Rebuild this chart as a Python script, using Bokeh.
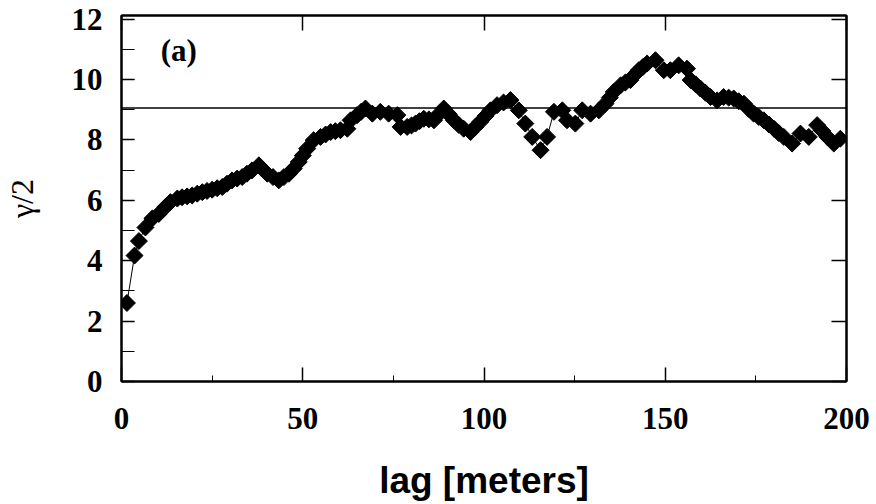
import numpy as np
from bokeh.plotting import figure
from bokeh.models import LinearAxis, SingleIntervalTicker, Span, Label, Range1d, CustomJSTickFormatter
from bokeh.embed import file_html
from bokeh.resources import INLINE

# lag distance [m]
lag = [1.5, 3.6, 4.8, 6.6, 8.5, 10.3, 12.1, 13.5, 15.4, 16.7, 18.1, 19.5, 20.9, 22.3, 23.6,
       25.0, 26.4, 27.8, 29.1, 30.5, 31.9, 33.3, 34.6, 36.0, 37.9, 39.0, 40.2, 41.8, 43.4,
       44.8, 46.2, 47.5, 48.9, 50.0, 51.2, 53.0, 54.9, 56.3, 57.7, 59.0, 60.4, 62.3, 63.2,
       65.0, 66.1, 67.3, 69.2, 71.4, 73.7, 76.1, 77.0, 78.8, 80.0, 81.1, 82.2, 83.4, 84.8,
       86.2, 87.5, 88.9, 90.3, 91.7, 93.0, 94.4, 96.3, 97.6, 99.0, 100.4, 101.8, 103.6,
       105.4, 107.3, 109.6, 111.4, 113.3, 115.6, 117.4, 119.3, 121.6, 122.9, 125.2, 127.1,
       129.4, 131.7, 133.5, 134.7, 135.8, 137.7, 139.0, 140.4, 141.5, 142.7, 143.9, 145.0,
       147.3, 149.6, 151.4, 153.7, 156.0, 157.0, 158.4, 159.7, 161.1, 162.5, 164.3, 166.1,
       167.5, 168.9, 170.3, 171.7, 173.0, 174.4, 175.8, 177.2, 178.6, 180.0, 181.3, 182.7,
       185.0, 187.3, 189.6, 191.9, 193.3, 194.7, 196.5, 198.3]
# semivariance gamma/2
gamma_half = [2.60, 4.17, 4.65, 5.10, 5.40, 5.55, 5.78, 5.94, 6.06, 6.10, 6.13, 6.16, 6.22, 6.27, 6.31,
              6.35, 6.40, 6.44, 6.55, 6.66, 6.72, 6.77, 6.88, 6.99, 7.16, 7.02, 6.88, 6.77, 6.66,
              6.77, 6.88, 7.05, 7.27, 7.48, 7.71, 7.99, 8.10, 8.18, 8.26, 8.29, 8.32, 8.37, 8.65,
              8.82, 8.93, 9.04, 8.87, 8.93, 8.87, 8.82, 8.43, 8.43, 8.48, 8.54, 8.62, 8.70, 8.68,
              8.65, 8.85, 9.04, 8.85, 8.65, 8.50, 8.37, 8.26, 8.43, 8.60, 8.79, 8.98, 9.15,
              9.24, 9.32, 8.98, 8.54, 8.10, 7.66, 8.10, 8.93, 8.98, 8.65, 8.54, 8.98,
              8.87, 8.98, 9.20, 9.40, 9.59, 9.81, 9.90, 9.98, 10.15, 10.31, 10.42, 10.53,
              10.64, 10.31, 10.31, 10.47, 10.36, 9.98, 9.84, 9.70, 9.56, 9.42, 9.31, 9.42,
              9.40, 9.37, 9.28, 9.20, 9.03, 8.87, 8.76, 8.65, 8.51, 8.37, 8.23, 8.10,
              7.88, 8.21, 8.10, 8.49, 8.30, 8.10, 7.88, 8.04]
sill = 9.06
panel_tag = "(a)"

serif = "Liberation Serif"
sans = "Liberation Sans"

p = figure(width=876, height=504, x_range=Range1d(0, 200), y_range=Range1d(0, 12.12),
           output_backend="svg", toolbar_location=None,
           min_border_left=121, min_border_right=30, min_border_top=15, min_border_bottom=123)
p.grid.visible = False
p.outline_line_color = "black"
p.outline_line_width = 2
p.background_fill_color = "white"
p.border_fill_color = "white"

# bottom axis
xa = p.xaxis[0]
xa.ticker = SingleIntervalTicker(interval=50, num_minor_ticks=2)
xa.major_tick_in = 14
xa.major_tick_out = 0
xa.minor_tick_in = 6
xa.minor_tick_out = 0
xa.axis_line_width = 2
xa.major_tick_line_width = 1.5
xa.major_label_text_font = serif
xa.major_label_text_font_style = "bold"
xa.major_label_text_font_size = "31px"
xa.major_label_text_color = "black"
xa.major_label_standoff = 26
xa.axis_label = "lag [meters]"
xa.axis_label_text_font = sans
xa.axis_label_text_font_style = "bold"
xa.axis_label_text_font_size = "37px"
xa.axis_label_text_color = "black"
xa.axis_label_standoff = 28

# left axis
ya = p.yaxis[0]
ya.ticker = SingleIntervalTicker(interval=2, num_minor_ticks=2)
ya.major_tick_in = 13
ya.major_tick_out = 0
ya.minor_tick_in = 13
ya.minor_tick_out = 0
ya.axis_line_width = 2
ya.major_tick_line_width = 1.5
ya.major_label_text_font = serif
ya.major_label_text_font_style = "bold"
ya.major_label_text_font_size = "31px"
ya.major_label_text_color = "black"
ya.major_label_standoff = 19
ya.axis_label = "γ/2"
ya.axis_label_text_font = serif
ya.axis_label_text_font_style = "normal"
ya.axis_label_text_font_size = "32px"
ya.axis_label_text_color = "black"
ya.axis_label_standoff = 29

blank = CustomJSTickFormatter(code="return ''")
# top axis (ticks only)
ta = LinearAxis(ticker=SingleIntervalTicker(interval=50, num_minor_ticks=0),
                major_tick_in=15, major_tick_out=0, minor_tick_in=0, minor_tick_out=0,
                formatter=blank, major_label_standoff=0,
                axis_line_width=2, major_tick_line_width=1.5)
p.add_layout(ta, "above")
# right axis (ticks only)
ra = LinearAxis(ticker=SingleIntervalTicker(interval=2, num_minor_ticks=0),
                major_tick_in=15, major_tick_out=0, minor_tick_in=0, minor_tick_out=0,
                formatter=blank, major_label_standoff=0,
                axis_line_width=2, major_tick_line_width=1.5)
p.add_layout(ra, "right")

p.add_layout(Span(location=sill, dimension="width", line_color="black", line_width=1.5))

p.line(lag, gamma_half, line_color="black", line_width=1)
p.scatter(lag, gamma_half, marker="square", size=12, angle=np.pi / 4,
          fill_color="black", line_color="black")

p.add_layout(Label(x=10.8, y=10.97, text=panel_tag, text_font=serif, text_font_style="bold",
                   text_font_size="31px", text_baseline="middle", text_align="left",
                   text_color="black"))

open("out.html", "w").write(file_html(p, INLINE))
